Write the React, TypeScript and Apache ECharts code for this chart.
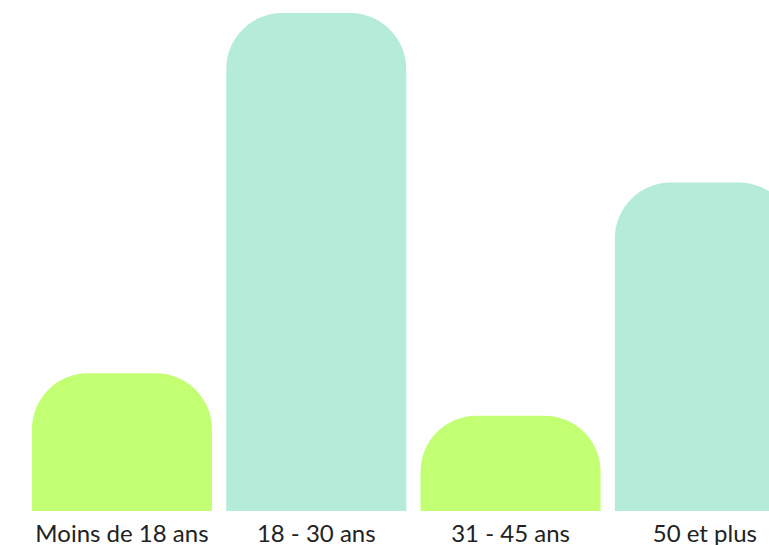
import React, { useEffect, useRef } from "react";
import * as echarts from "echarts";

const categories = ["Moins de 18 ans", "18 - 30 ans", "31 - 45 ans", "50 et plus"];
const values = [13, 47, 9, 31];
const colors = ["#c2ff73", "#b5ebd9", "#c2ff73", "#b5ebd9"];

export default function App() {
  const ref = useRef<HTMLDivElement>(null);
  useEffect(() => {
    if (!ref.current) return;
    const chart = echarts.init(ref.current, undefined, { renderer: "svg" });
    chart.setOption({
      animation: false,
      grid: { left: 24.8, right: 0, top: 13, bottom: 34 },
      xAxis: {
        type: "category",
        data: categories,
        axisLine: { show: false },
        axisTick: { show: false },
        axisLabel: {
          margin: 9,
          fontSize: 24,
          fontFamily: "Lato",
          color: "#222222",
          interval: 0,
        },
      },
      yAxis: {
        type: "value",
        min: 0,
        max: 47,
        show: false,
        splitLine: { show: false },
      },
      series: [
        {
          type: "bar",
          data: values.map((v, i) => ({ value: v, itemStyle: { color: colors[i] } })),
          barWidth: 180,
          itemStyle: { borderRadius: [56, 56, 0, 0] },
        },
      ],
    });
    return () => chart.dispose();
  }, []);
  return (
    <div style={{ position: "fixed", left: 0, top: 0, width: 769, height: 545, overflow: "hidden", background: "#ffffff" }}>
      <div ref={ref} style={{ position: "absolute", left: 0, top: 0, width: 802, height: 545 }} />
    </div>
  );
}
